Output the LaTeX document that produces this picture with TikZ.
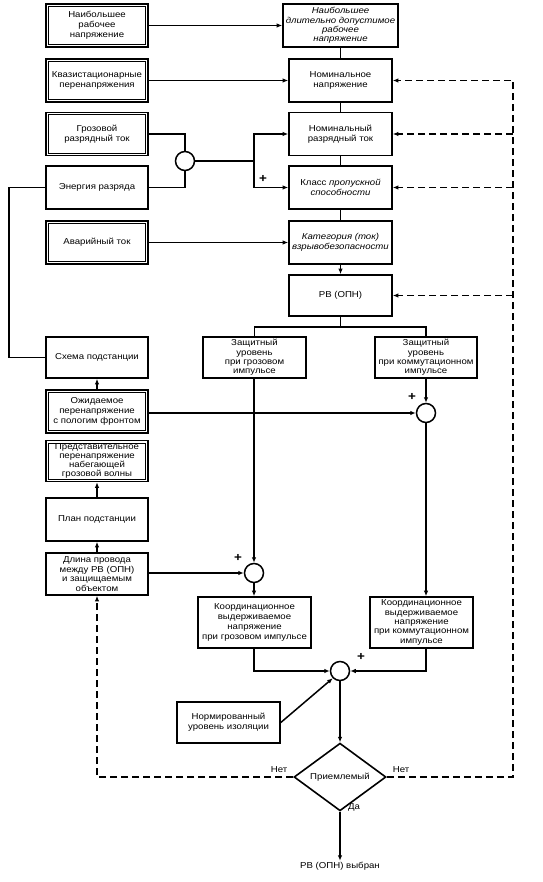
\documentclass[tikz,border=0pt]{standalone}
\usepackage{fontspec}
\setmainfont[FakeStretch=1.12]{Liberation Sans}
\usetikzlibrary{arrows.meta,shapes.geometric}
\newcommand{\ftxt}{\fontsize{8.6}{10.2}\selectfont}
\newcommand{\ftight}{\fontsize{8.6}{9.4}\selectfont}
\newcommand{\fvtight}{\fontsize{8.6}{8.9}\selectfont}
\begin{document}
\begin{tikzpicture}[x=1pt,y=-1pt,
  ln/.style={line width=1.5pt},
  arr/.style={ln,-{Latex[length=5.5pt,width=4.5pt]}},
  dsh/.style={line width=1.7pt,dash pattern=on 7pt off 4pt},
  box/.style={draw,line width=1.6pt,align=center,inner sep=0.5pt,font=\ftxt,minimum height=43pt},
  lbox/.style={box,minimum width=102pt},
  rbox/.style={box,minimum width=103pt},
  sumc/.style={draw,line width=1.5pt,circle,minimum size=19pt,inner sep=0pt},
  plus/.style={font=\fontsize{12}{12}\selectfont\bfseries,inner sep=0pt},
  lbl/.style={font=\ftxt,inner sep=1pt}]
\useasboundingbox (0,0) rectangle (542,882);
\fill[white] (0,0) rectangle (542,882);
% left column
\node[lbox] (b1) at (97,25.5) {Наибольшее\\рабочее\\напряжение};
\node[lbox] (b2) at (97,80.5) {Квазистационарные\\перенапряжения};
\node[lbox] (b3) at (97,134) {Грозовой\\разрядный ток};
\node[lbox] (b4) at (97,187.5) {Энергия разряда};
\node[lbox] (b5) at (97,242.5) {Аварийный ток};
\node[lbox,minimum height=41pt] (b6) at (97,357.5) {Схема подстанции};
\node[lbox] (b7) at (97,411.5) {Ожидаемое\\перенапряжение\\с пологим фронтом};
\node[lbox,minimum height=41pt,font=\fvtight,inner sep=0pt] (b8) at (97,461) {Представительное\\перенапряжение\\набегающей\\грозовой волны};
\node[lbox] (b9) at (97,519.5) {План подстанции};
\node[lbox,minimum height=42pt,font=\ftight,inner sep=0pt] (b10) at (97,574) {Длина провода\\между РВ (ОПН)\\и защищаемым\\объектом};
\foreach \n in {b1,b2,b3,b5,b7,b8}
  \draw[line width=0.8pt] ([shift={(3.2pt,-3.2pt)}]\n.north west) rectangle ([shift={(-3.2pt,3.2pt)}]\n.south east);
% right column
\node[box,minimum width=115pt,font=\ftight,inner sep=0pt] (r1) at (340.5,25.5) {\itshape Наибольшее\\\itshape длительно допустимое\\\itshape рабочее\\\itshape напряжение};
\node[rbox] (r2) at (340.5,80.5) {Номинальное\\напряжение};
\node[rbox] (r3) at (340.5,134) {Номинальный\\разрядный ток};
\node[rbox] (r4) at (340.5,187.5) {Класс \textit{пропускной}\\\textit{способности}};
\node[rbox] (r5) at (340.5,242.5) {\itshape Категория (ток)\\\itshape взрывобезопасности};
\node[rbox,minimum height=41pt] (r6) at (340.5,295.5) {РВ (ОПН)};
\node[rbox,minimum height=41pt,font=\ftight,inner sep=0pt] (p1) at (254.5,357.5) {Защитный\\уровень\\при грозовом\\импульсе};
\node[rbox,minimum width=102pt,minimum height=41pt,font=\ftight,inner sep=0pt] (p2) at (426,357.5) {Защитный\\уровень\\при коммутационном\\импульсе};
\node[box,minimum width=113pt,minimum height=51pt] (k1) at (254.5,622.5) {Координационное\\выдерживаемое\\напряжение\\при грозовом импульсе};
\node[rbox,minimum height=51pt,font=\ftight,inner sep=0pt] (k2) at (421.5,622.5) {Координационное\\выдерживаемое\\напряжение\\при коммутационном\\импульсе};
\node[rbox,minimum height=41pt] (n) at (228.5,722.5) {Нормированный\\уровень изоляции};
\node[draw,line width=1.6pt,diamond,minimum width=92pt,minimum height=40pt,inner sep=0pt,font=\ftxt] (d) at (340,777) {Приемлемый};
\node[lbl] (fin) at (340,866) {РВ (ОПН) выбран};
% summing circles
\node[sumc] (c0) at (185,161) {};
\node[sumc] (c1) at (426,413) {};
\node[sumc] (c2) at (254,573) {};
\node[sumc] (c3) at (340,671) {};
% plus signs and labels
\node[plus] (pl0) at (263,179) {+};
\node[plus] (pl1) at (412,397) {+};
\node[plus] (pl2) at (238,558) {+};
\node[plus] (pl3) at (361,657) {+};
\node[lbl] (no1) at (279,770) {Нет};
\node[lbl] (no2) at (401,770) {Нет};
\node[lbl] (yes) at (354,807) {Да};
% connectors top
\draw[arr] (b1) -- (r1);
\draw[arr] (b2) -- (r2);
\draw[arr] (b5) -- (r5);
\draw[ln] (r1) -- (r2);
\draw[ln] (r2) -- (r3);
\draw[ln] (r3) -- (r4);
\draw[ln] (r4) -- (r5);
\draw[arr] (r5) -- (r6);
% circle c0
\draw[ln] (b3.east) -| (c0.north);
\draw[ln] (b4.east) -| (c0.south);
\coordinate (j0) at (254,161);
\draw[ln] (c0.east) -- (j0);
\draw[arr] (j0) |- (r3.west);
\draw[arr] (j0) |- (r4.west);
% loop from b4 to b6
\coordinate (lp) at (9,187.5);
\draw[ln] (b4.west) -- (lp) |- (b6.west);
% left column arrows
\draw[arr] (b7) -- (b6);
\draw[arr] (b9) -- (b8);
\draw[arr] (b10) -- (b9);
% r6 branch
\coordinate (br) at (340.5,327);
\draw[ln] (r6.south) -- (br);
\draw[ln] (br) -| (p1.north);
\draw[ln] (br) -| (p2.north);
% protective levels
\draw[arr] (p1.south -| c2) -- (c2.north);
\draw[arr] (p2.south) -- (c1.north);
\draw[arr] (b7.east |- c1) -- (c1.west);
\draw[arr] (b10.east |- c2) -- (c2.west);
\draw[arr] (c2.south) -- (c2.south |- k1.north);
\draw[arr] (c1.south) -- (c1.south |- k2.north);
\draw[arr] (k1.south -| c2) |- (c3.west);
\draw[arr] (k2.south -| c1) |- (c3.east);
\draw[arr] (n.east) -- (c3.225);
\draw[arr] (c3.south) -- (d.north);
\draw[arr] (d.south) -- (fin.north);
% dashed feedback
\draw[dsh,-{Latex[length=5.5pt,width=4.5pt]}] (d.west) -| (b10.south);
\coordinate (rt) at (513,80.5);
\draw[dsh,-{Latex[length=5.5pt,width=4.5pt]}] (d.east) -| (rt) -- (r2.east);
\draw[dsh,-{Latex[length=5.5pt,width=4.5pt]}] (rt |- r3) -- (r3.east);
\draw[dsh,-{Latex[length=5.5pt,width=4.5pt]}] (rt |- r4) -- (r4.east);
\draw[dsh,-{Latex[length=5.5pt,width=4.5pt]}] (rt |- r6) -- (r6.east);
\end{tikzpicture}
\end{document}
